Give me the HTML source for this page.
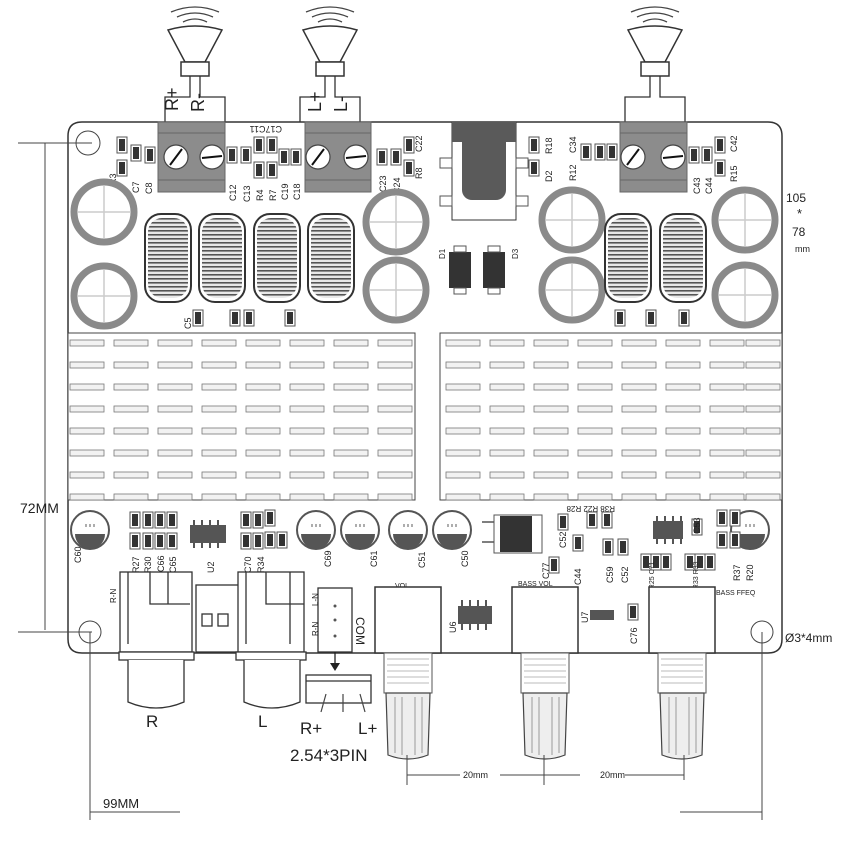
<!DOCTYPE html>
<html><head><meta charset="utf-8"><style>body{margin:0;background:#fff}svg{display:block}text{font-family:"Liberation Sans",sans-serif;fill:#222}</style></head><body>
<svg width="850" height="850" viewBox="0 0 850 850" xmlns="http://www.w3.org/2000/svg">
<defs>
<g id="spk"><path d="M-27,-42 Q0,-50 27,-42 L10,-10 L-10,-10 Z" fill="#fff" stroke="#333" stroke-width="1.5"/><rect x="-14" y="-10" width="28" height="14" fill="#fff" stroke="#333" stroke-width="1.5"/>
<path d="M-12,-50 Q0,-56 12,-50 M-18,-55 Q0,-63 18,-55 M-24,-60 Q0,-70 24,-60" fill="none" stroke="#444" stroke-width="1.3"/>
<path d="M-5,4 V25 H-30 V50 M5,4 V25 H30 V50" fill="none" stroke="#333" stroke-width="1.3"/></g>
<g id="bigcap"><circle r="30" fill="#fff" stroke="#8a8a8a" stroke-width="7"/><path d="M-26,0H26M0,-26V26" stroke="#ccc" stroke-width="1.5"/></g>
<pattern id="coil" width="4" height="4" patternUnits="userSpaceOnUse"><rect width="4" height="4" fill="#e8e8e8"/><rect width="4" height="1.6" fill="#555"/></pattern>
<g id="ind"><rect x="-23" y="-44" width="46" height="88" rx="16" fill="#fff" stroke="#333" stroke-width="2"/><rect x="-20" y="-40" width="40" height="80" rx="14" fill="url(#coil)"/></g>
<g id="smc"><circle r="19" fill="#fff" stroke="#555" stroke-width="2"/><path d="M-15,4 H15 A15,15 0 0 1 -15,4Z" fill="#555"/><path d="M-4,-6v3M0,-6v3M4,-6v3" stroke="#777" stroke-width="1.2"/></g>
<g id="r"><rect x="-5" y="-8" width="10" height="16" fill="#fff" stroke="#555"/><rect x="-3" y="-6" width="6" height="12" fill="#333"/></g>
<g id="pot"><rect x="0" y="0" width="66" height="66" fill="#fff" stroke="#333" stroke-width="1.5"/><rect x="9" y="66" width="48" height="40" fill="#fff" stroke="#555"/><path d="M12,72h42M12,78h42M12,84h42M12,90h42M12,96h42" stroke="#bbb"/><path d="M11,106 h44 l-2,62 q-20,8 -40,0 Z" fill="#eee" stroke="#444" stroke-width="1.2"/><path d="M20,110v56M27,110v58M40,110v58M47,110v56" stroke="#999"/></g>
<g id="col"><rect x="0" y="340" width="34" height="6"/><rect x="0" y="362" width="34" height="6"/><rect x="0" y="384" width="34" height="6"/><rect x="0" y="406" width="34" height="6"/><rect x="0" y="428" width="34" height="6"/><rect x="0" y="450" width="34" height="6"/><rect x="0" y="472" width="34" height="6"/><rect x="0" y="494" width="34" height="6"/></g>
</defs>

<!-- board -->
<path d="M82,122 H768 Q782,122 782,136 V639 Q782,653 768,653 H82 Q68,653 68,639 V136 Q68,122 82,122Z" fill="#fff" stroke="#333" stroke-width="1.5"/>

<!-- speakers -->
<use href="#spk" x="195" y="72"/><use href="#spk" x="330" y="72"/><use href="#spk" x="655" y="72"/>
<text x="165" y="110" font-size="18" transform="rotate(-90 172 104)">R+</text>
<text x="188" y="112" font-size="18" transform="rotate(-90 196 104)">R-</text>
<text x="307" y="110" font-size="18" transform="rotate(-90 315 104)">L+</text>
<text x="331" y="112" font-size="18" transform="rotate(-90 339 104)">L-</text>

<!-- terminal blocks -->
<g fill="#8c8c8c" stroke="#666">
<rect x="158" y="122" width="67" height="70"/><rect x="305" y="122" width="66" height="70"/><rect x="620" y="122" width="67" height="70"/></g>
<g stroke="#666"><path d="M158,133h67M158,180h67M305,133h66M305,180h66M620,133h67M620,180h67"/></g>
<g fill="#fff" stroke="#444" stroke-width="1.2">
<circle cx="176" cy="157" r="12"/><circle cx="212" cy="157" r="12"/><circle cx="318" cy="157" r="12"/><circle cx="356" cy="157" r="12"/><circle cx="633" cy="157" r="12"/><circle cx="673" cy="157" r="12"/></g>
<g stroke="#111" stroke-width="2"><path d="M170,165l12,-16M202,158l20,-2M312,165l12,-16M346,158l20,-2M627,165l12,-16M663,158l20,-2"/></g>

<!-- top small parts -->
<g>
<use href="#r" x="122" y="145"/><use href="#r" x="122" y="168"/><use href="#r" x="136" y="153"/><use href="#r" x="150" y="155"/>
<use href="#r" x="232" y="155"/><use href="#r" x="246" y="155"/><use href="#r" x="259" y="145"/><use href="#r" x="259" y="170"/><use href="#r" x="272" y="145"/><use href="#r" x="272" y="170"/><use href="#r" x="284" y="157"/><use href="#r" x="296" y="157"/>
<use href="#r" x="382" y="157"/><use href="#r" x="396" y="157"/><use href="#r" x="409" y="145"/><use href="#r" x="409" y="168"/>
<use href="#r" x="534" y="145"/><use href="#r" x="534" y="168"/><use href="#r" x="586" y="152"/><use href="#r" x="600" y="152"/><use href="#r" x="612" y="152"/>
<use href="#r" x="694" y="155"/><use href="#r" x="707" y="155"/><use href="#r" x="720" y="145"/><use href="#r" x="720" y="168"/>
</g>
<g font-size="9">
<text x="105" y="182" transform="rotate(-90 112 178)">R3</text><text x="128" y="190" transform="rotate(-90 135 186)">C7</text><text x="140" y="190" transform="rotate(-90 148 186)">C8</text>
<text x="225" y="198" transform="rotate(-90 232 194)">C12</text><text x="238" y="198" transform="rotate(-90 246 194)">C13</text><text x="252" y="198" transform="rotate(-90 259 194)">R4</text><text x="265" y="198" transform="rotate(-90 272 194)">R7</text><text x="278" y="198" transform="rotate(-90 284 194)">C19</text><text x="290" y="198" transform="rotate(-90 296 194)">C18</text>
<text x="376" y="190" transform="rotate(-90 382 186)">C23</text><text x="388" y="190" transform="rotate(-90 396 186)">C24</text><text x="410" y="175" transform="rotate(-90 418 171)">R8</text><text x="410" y="148" transform="rotate(-90 418 144)">C22</text>
<text x="540" y="178" transform="rotate(-90 548 174)">D2</text><text x="540" y="150" transform="rotate(-90 548 146)">R18</text><text x="565" y="178" transform="rotate(-90 572 174)">R12</text><text x="565" y="150" transform="rotate(-90 572 146)">C34</text>
<text x="690" y="192" transform="rotate(-90 696 188)">C43</text><text x="702" y="192" transform="rotate(-90 708 188)">C44</text><text x="725" y="178" transform="rotate(-90 733 174)">R15</text><text x="725" y="148" transform="rotate(-90 733 144)">C42</text>
<text x="248" y="132" transform="rotate(180 265 129)">C17C11</text>
</g>

<!-- jack -->
<rect x="452" y="122" width="64" height="98" fill="#fff" stroke="#333"/>
<rect x="452" y="122" width="64" height="20" fill="#5a5a5a"/>
<rect x="462" y="122" width="44" height="78" rx="10" fill="#5a5a5a"/>
<rect x="440" y="158" width="12" height="10" fill="#fff" stroke="#555"/><rect x="516" y="158" width="12" height="10" fill="#fff" stroke="#555"/>
<rect x="440" y="196" width="12" height="10" fill="#fff" stroke="#555"/><rect x="516" y="196" width="12" height="10" fill="#fff" stroke="#555"/>

<!-- big caps -->
<use href="#bigcap" x="104" y="212"/><use href="#bigcap" x="104" y="296"/><use href="#bigcap" x="396" y="222"/><use href="#bigcap" x="396" y="290"/>
<use href="#bigcap" x="572" y="220"/><use href="#bigcap" x="572" y="290"/><use href="#bigcap" x="745" y="220"/><use href="#bigcap" x="745" y="295"/>
<!-- inductors -->
<use href="#ind" x="168" y="258"/><use href="#ind" x="222" y="258"/><use href="#ind" x="277" y="258"/><use href="#ind" x="331" y="258"/>
<use href="#ind" x="628" y="258"/><use href="#ind" x="683" y="258"/>
<!-- diodes -->
<rect x="449" y="252" width="22" height="36" fill="#333"/><rect x="483" y="252" width="22" height="36" fill="#333"/>
<rect x="454" y="246" width="12" height="6" fill="#fff" stroke="#555"/><rect x="488" y="246" width="12" height="6" fill="#fff" stroke="#555"/>
<rect x="454" y="288" width="12" height="6" fill="#fff" stroke="#555"/><rect x="488" y="288" width="12" height="6" fill="#fff" stroke="#555"/>
<text x="436" y="260" font-size="8" transform="rotate(-90 440 255)">D1</text><text x="509" y="260" font-size="8" transform="rotate(-90 513 255)">D3</text>
<use href="#r" x="198" y="318"/><use href="#r" x="235" y="318"/><use href="#r" x="249" y="318"/><use href="#r" x="290" y="318"/>
<use href="#r" x="620" y="318"/><use href="#r" x="651" y="318"/><use href="#r" x="684" y="318"/>
<text x="180" y="328" font-size="9" transform="rotate(-90 186 323)">C5</text>

<!-- heatsinks -->
<rect x="68" y="333" width="347" height="167" fill="#fff" stroke="#444"/>
<rect x="440" y="333" width="342" height="167" fill="#fff" stroke="#444"/>
<g fill="#f2f2f2" stroke="#777" stroke-width="0.8">
<use href="#col" x="70"/><use href="#col" x="114"/><use href="#col" x="158"/><use href="#col" x="202"/><use href="#col" x="246"/><use href="#col" x="290"/><use href="#col" x="334"/><use href="#col" x="378"/>
<use href="#col" x="446"/><use href="#col" x="490"/><use href="#col" x="534"/><use href="#col" x="578"/><use href="#col" x="622"/><use href="#col" x="666"/><use href="#col" x="710"/><use href="#col" x="746"/>
</g>

<!-- bottom components -->
<use href="#smc" x="90" y="530"/><use href="#smc" x="316" y="530"/><use href="#smc" x="360" y="530"/><use href="#smc" x="408" y="530"/><use href="#smc" x="452" y="530"/><use href="#smc" x="750" y="530"/>
<g><use href="#r" x="135" y="520"/><use href="#r" x="135" y="541"/><use href="#r" x="148" y="520"/><use href="#r" x="148" y="541"/><use href="#r" x="160" y="520"/><use href="#r" x="160" y="541"/><use href="#r" x="172" y="520"/><use href="#r" x="172" y="541"/>
<use href="#r" x="246" y="520"/><use href="#r" x="246" y="541"/><use href="#r" x="258" y="520"/><use href="#r" x="258" y="541"/><use href="#r" x="270" y="518"/><use href="#r" x="282" y="540"/><use href="#r" x="270" y="540"/>
<use href="#r" x="563" y="522"/><use href="#r" x="578" y="543"/><use href="#r" x="592" y="520"/><use href="#r" x="607" y="520"/><use href="#r" x="608" y="547"/><use href="#r" x="623" y="547"/>
<use href="#r" x="646" y="562"/><use href="#r" x="656" y="562"/><use href="#r" x="666" y="562"/><use href="#r" x="690" y="562"/><use href="#r" x="700" y="562"/><use href="#r" x="710" y="562"/><use href="#r" x="697" y="527"/>
<use href="#r" x="722" y="518"/><use href="#r" x="735" y="518"/><use href="#r" x="722" y="540"/><use href="#r" x="735" y="540"/><use href="#r" x="554" y="565"/><use href="#r" x="633" y="612"/></g>
<rect x="190" y="525" width="36" height="18" fill="#555"/><path d="M194,520v5M202,520v5M210,520v5M218,520v5M194,543v5M202,543v5M210,543v5M218,543v5" stroke="#555" stroke-width="2"/>
<rect x="653" y="521" width="30" height="18" fill="#555"/><path d="M657,516v5M665,516v5M673,516v5M681,516v5M657,539v5M665,539v5M673,539v5M681,539v5" stroke="#555" stroke-width="2"/>
<rect x="458" y="606" width="34" height="18" fill="#555"/><path d="M462,600v6M470,600v6M478,600v6M486,600v6M462,624v6M470,624v6M478,624v6M486,624v6" stroke="#555" stroke-width="2"/>
<rect x="590" y="610" width="24" height="10" fill="#555"/>
<rect x="494" y="515" width="48" height="38" fill="#fff" stroke="#555"/><rect x="500" y="516" width="32" height="36" fill="#333"/><path d="M482,522h12M482,542h12" stroke="#555" stroke-width="1.5"/>
<g font-size="9">
<text x="68" y="562" transform="rotate(-90 75 556)">C60</text><text x="126" y="572" transform="rotate(-90 133 566)">R27</text><text x="138" y="572" transform="rotate(-90 145 566)">R30</text><text x="152" y="572" transform="rotate(-90 158 566)">C66</text><text x="163" y="572" transform="rotate(-90 170 566)">C65</text><text x="201" y="572" transform="rotate(-90 208 566)">U2</text>
<text x="238" y="572" transform="rotate(-90 245 566)">C70</text><text x="251" y="572" transform="rotate(-90 258 566)">R34</text><text x="320" y="566" transform="rotate(-90 326 561)">C69</text><text x="366" y="566" transform="rotate(-90 372 561)">C61</text><text x="413" y="566" transform="rotate(-90 420 561)">C51</text><text x="457" y="566" transform="rotate(-90 463 561)">C50</text>
<text x="536" y="576" transform="rotate(-90 544 571)">C77</text><text x="568" y="582" transform="rotate(-90 576 577)">C44</text><text x="555" y="545" transform="rotate(-90 562 541)">C52</text><text x="600" y="580" transform="rotate(-90 608 575)">C59</text><text x="615" y="580" transform="rotate(-90 623 575)">C52</text><text x="688" y="530" transform="rotate(-90 696 526)">C53</text>
<text x="740" y="578" transform="rotate(-90 748 573)">R20</text><text x="727" y="578" transform="rotate(-90 735 573)">R37</text><text x="445" y="630" transform="rotate(-90 452 626)">U6</text><text x="577" y="620" transform="rotate(-90 584 616)">U7</text><text x="625" y="640" transform="rotate(-90 633 636)">C76</text>
<text x="585" y="512" transform="rotate(180 600 509)" font-size="8">R38 R22 R28</text>
<text x="634" y="592" font-size="7" transform="rotate(-90 650 588)">C72 R25 C71</text><text x="678" y="592" font-size="7" transform="rotate(-90 694 588)">R36 R33 R33</text>
<text x="395" y="588" font-size="7">VOL</text><text x="518" y="586" font-size="7">BASS VOL</text><text x="716" y="595" font-size="7">BASS FFEQ</text>
<text x="105" y="600" transform="rotate(-90 112 596)" font-size="8">R-N</text>
</g>

<!-- RCA jacks -->
<g fill="#fff" stroke="#333" stroke-width="1.3">
<rect x="120" y="572" width="72" height="80"/><path d="M128,572v72M150,572v32h40M168,572v32"/>
<rect x="196" y="585" width="45" height="67"/><rect x="202" y="614" width="10" height="12"/><rect x="218" y="614" width="10" height="12"/>
<rect x="238" y="572" width="66" height="80"/><path d="M246,572v72M266,572v32h38M290,572v72"/>
<rect x="119" y="652" width="75" height="8"/><rect x="236" y="652" width="70" height="8"/>
<path d="M128,660v42q28,12 56,0v-42"/><path d="M244,660v42q28,12 56,0v-42"/>
<rect x="318" y="588" width="34" height="64"/><rect x="306" y="675" width="65" height="28"/><path d="M306,681h65"/>
</g>
<g fill="#555"><circle cx="335" cy="606" r="1.5"/><circle cx="335" cy="620" r="1.5"/><circle cx="335" cy="636" r="1.5"/></g>
<path d="M335,652v16" stroke="#222" stroke-width="1.3"/><path d="M330,663l5,8l5,-8z" fill="#222"/>
<path d="M326,694l-5,18M343,694v18M360,694l5,18" stroke="#444" stroke-width="1.2"/>
<text x="308" y="604" font-size="8" transform="rotate(-90 314 600)">L-N</text><text x="308" y="634" font-size="8" transform="rotate(-90 314 630)">R-N</text>
<text x="356" y="627" font-size="12" transform="rotate(90 361 622)">COM</text>
<text x="146" y="727" font-size="17">R</text><text x="258" y="727" font-size="17">L</text>
<text x="300" y="734" font-size="17">R+</text><text x="358" y="734" font-size="17">L+</text>
<text x="290" y="761" font-size="17">2.54*3PIN</text>

<!-- pots -->
<use href="#pot" x="375" y="587"/><use href="#pot" x="512" y="587"/><use href="#pot" x="649" y="587"/>

<!-- holes & dims -->
<circle cx="88" cy="143" r="12" fill="#fff" stroke="#444"/><circle cx="90" cy="632" r="11" fill="#fff" stroke="#444"/><circle cx="762" cy="632" r="11" fill="#fff" stroke="#444"/>
<g stroke="#444" stroke-width="1" fill="none">
<path d="M18,143H92M18,632H92M45,143V630M90,632V820M762,632V820M407,755V785M544,755V785M684,755V780"/>
<path d="M407,775H460M500,775H544M544,775H580M625,775H684M90,812H180M680,812H762"/>
</g>
<text x="20" y="513" font-size="14">72MM</text>
<text x="103" y="808" font-size="13">99MM</text>
<text x="463" y="778" font-size="9">20mm</text><text x="600" y="778" font-size="9">20mm</text>
<text x="786" y="202" font-size="12">105</text><text x="797" y="218" font-size="13">*</text><text x="792" y="236" font-size="12">78</text><text x="795" y="252" font-size="9">mm</text>
<text x="785" y="642" font-size="12">Ø3*4mm</text>
</svg>
</body></html>
